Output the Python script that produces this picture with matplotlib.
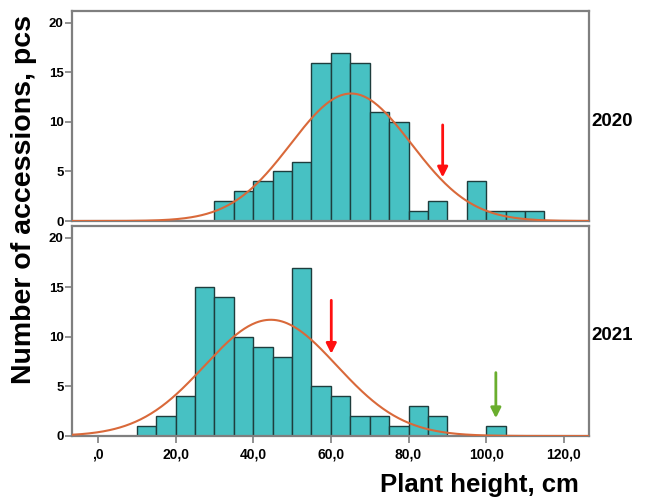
import numpy as np
import matplotlib
matplotlib.use("Agg")
import matplotlib.pyplot as plt

plt.rcParams['font.family'] = ['Liberation Sans', 'DejaVu Sans']

# ---- data ----
bin_edges = list(range(0, 125, 5))
counts_2020 = [0, 0, 0, 0, 0, 0, 2, 3, 4, 5, 6, 16, 17, 16, 11, 10, 1, 2, 0, 4, 1, 1, 1, 0]
counts_2021 = [0, 0, 1, 2, 4, 15, 14, 10, 9, 8, 17, 5, 4, 2, 2, 1, 3, 2, 0, 0, 1, 0, 0, 0]
mean_2020, sd_2020 = 65.2, 15.5
mean_2021, sd_2021 = 44.5, 17.0
years = ["2020", "2021"]
red_arrow_2020 = (88.8, 9.7, 4.4)
red_arrow_2021 = (60.1, 13.7, 8.3)
green_arrow_2021 = (102.5, 6.4, 1.8)
x_ticks = [0, 20, 40, 60, 80, 100, 120]
x_tick_labels = [",0", "20,0", "40,0", "60,0", "80,0", "100,0", "120,0"]
y_ticks = [0, 5, 10, 15, 20]

W, H = 645, 499
fig = plt.figure(figsize=(W / 100, H / 100), dpi=100)

def ax_rect(l, t, r, b):
    return [l / W, 1 - b / H, (r - l) / W, (b - t) / H]

ax1 = fig.add_axes(ax_rect(72, 11, 589, 221))
ax2 = fig.add_axes(ax_rect(72, 226, 589, 436))

bar_col = '#47C1C3'
edge_col = '#1E3D3D'
curve_col = '#D9693A'
frame_col = '#7F7F7F'
xlim = (-6.7, 126.5)

def draw(ax, counts, mu, sd, arrows):
    lefts = bin_edges[:-1]
    ax.bar(lefts, counts, width=5, align='edge', color=bar_col,
           edgecolor=edge_col, linewidth=1.0, zorder=2)
    xs = np.linspace(xlim[0], xlim[1], 400)
    n = sum(counts)
    ys = n * 5 / (sd * np.sqrt(2 * np.pi)) * np.exp(-0.5 * ((xs - mu) / sd) ** 2)
    ax.plot(xs, ys, color=curve_col, lw=1.5, zorder=3)
    for (x, y0, y1, c) in arrows:
        ax.annotate('', xy=(x, y1), xytext=(x, y0),
                    arrowprops=dict(arrowstyle='-|>,head_width=0.3,head_length=0.6',
                                    color=c, lw=2.0, shrinkA=0, shrinkB=0),
                    zorder=4)
    ax.set_xlim(*xlim)
    ax.set_ylim(0, 21.2)
    ax.set_yticks(y_ticks)
    ax.set_yticklabels([str(v) for v in y_ticks], fontsize=9.5, fontweight='bold')
    for s in ax.spines.values():
        s.set_color(frame_col)
        s.set_linewidth(1.6)
    ax.tick_params(axis='y', direction='out', length=5, width=1.2, color=frame_col, pad=1)

draw(ax1, counts_2020, mean_2020, sd_2020,
     [(red_arrow_2020[0], red_arrow_2020[1], red_arrow_2020[2], '#FF1010')])
draw(ax2, counts_2021, mean_2021, sd_2021,
     [(red_arrow_2021[0], red_arrow_2021[1], red_arrow_2021[2], '#FF1010'),
      (green_arrow_2021[0], green_arrow_2021[1], green_arrow_2021[2], '#6AAE2E')])

ax1.set_xticks([])
ax2.set_xticks(x_ticks)
ax2.set_xticklabels(x_tick_labels, fontsize=10, fontweight='bold')
ax2.tick_params(axis='x', direction='out', length=5, width=1.2, color=frame_col, pad=3)

fig.text(591 / W, 1 - 121 / H, years[0], fontsize=13.5, fontweight='bold', va='center', ha='left')
fig.text(591 / W, 1 - 336 / H, years[1], fontsize=13.5, fontweight='bold', va='center', ha='left')
fig.text(24 / W, 1 - 200 / H, "Number of accessions, pcs", fontsize=20.5, fontweight='bold',
         rotation=90, va='center', ha='center')
fig.text(579 / W, 1 - 492 / H, "Plant height, cm", fontsize=18.5, fontweight='bold',
         va='baseline', ha='right')

fig.savefig("out.png", dpi=100)
